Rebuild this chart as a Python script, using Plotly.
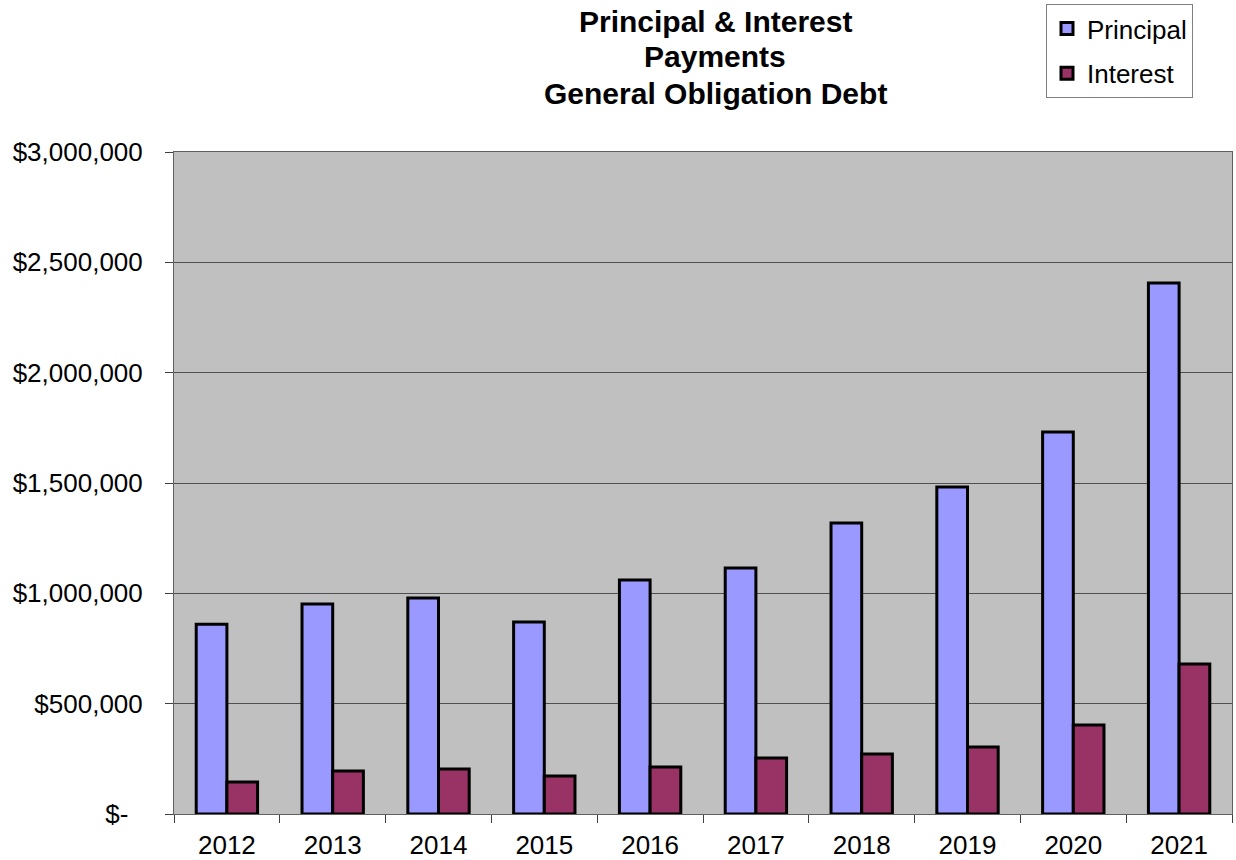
import plotly.graph_objects as go

years = ["2012", "2013", "2014", "2015", "2016", "2017", "2018", "2019", "2020", "2021"]
principal = [860000, 952000, 979000, 870000, 1060000, 1115000, 1319000, 1482000, 1731000, 2406000]
interest = [145000, 195000, 204000, 172000, 213000, 254000, 272000, 304000, 403000, 680000]

y_tickvals = [0, 500000, 1000000, 1500000, 2000000, 2500000, 3000000]
y_ticktext = ["$-\u00a0\u00a0", "$500,000", "$1,000,000", "$1,500,000", "$2,000,000", "$2,500,000", "$3,000,000"]

title_lines = ["Principal & Interest", "Payments", "General Obligation Debt"]

font_family = "Liberation Sans, Arial, sans-serif"
W, H = 1236, 860

fig = go.Figure()
fig.add_trace(go.Bar(
    x=years, y=principal, name="Principal", legendgroup="p",
    marker=dict(color="#9999FF", line=dict(color="black", width=3)),
))
fig.add_trace(go.Bar(
    x=years, y=interest, name="Interest", legendgroup="i",
    marker=dict(color="#993366", line=dict(color="black", width=3)),
))

title_y_px = [22, 57, 94]
for txt, ypx in zip(title_lines, title_y_px):
    fig.add_annotation(
        text="<b>" + txt + "</b>",
        xref="paper", yref="paper",
        x=(715 - 174) / (1232 - 174), y=(814 - ypx) / (814 - 152),
        xanchor="center", yanchor="middle",
        showarrow=False,
        font=dict(family=font_family, size=30, color="black"),
    )

fig.update_layout(
    template="none",
    width=W, height=H,
    margin=dict(l=174, r=W - 1232, t=152, b=H - 814, autoexpand=False),
    paper_bgcolor="white",
    plot_bgcolor="#C0C0C0",
    barmode="group",
    bargap=0.42,
    bargroupgap=0,
    font=dict(family=font_family, size=26, color="black"),
    showlegend=True,
    legend=dict(
        xref="container", yref="container",
        x=1046 / W, xanchor="left",
        y=1 - 4 / H, yanchor="top",
        bgcolor="white", bordercolor="#808080", borderwidth=1,
        font=dict(family=font_family, size=26, color="black"),
        tracegroupgap=8,
        traceorder="grouped",
        itemwidth=30,
    ),
    xaxis=dict(
        type="category",
        showline=True, linecolor="#606060", linewidth=1, mirror=True,
        ticks="outside", tickson="boundaries", ticklen=8, tickcolor="#404040",
        showgrid=False,
        tickfont=dict(family=font_family, size=26, color="black"),
        ticklabelstandoff=8,
        automargin=False,
    ),
    yaxis=dict(
        range=[0, 3000000],
        tickmode="array",
        tickvals=y_tickvals, ticktext=y_ticktext,
        showline=True, linecolor="#606060", linewidth=1, mirror=True,
        ticks="outside", ticklen=8, tickcolor="#404040",
        showgrid=True, gridcolor="#505050", gridwidth=1,
        zeroline=False,
        tickfont=dict(family=font_family, size=26, color="black"),
        ticklabelstandoff=17,
        automargin=False,
    ),
)

fig.write_html(
    "out.html",
    config={"displayModeBar": False},
    post_script="document.body.style.margin='0';document.body.style.overflow='hidden';",
)
